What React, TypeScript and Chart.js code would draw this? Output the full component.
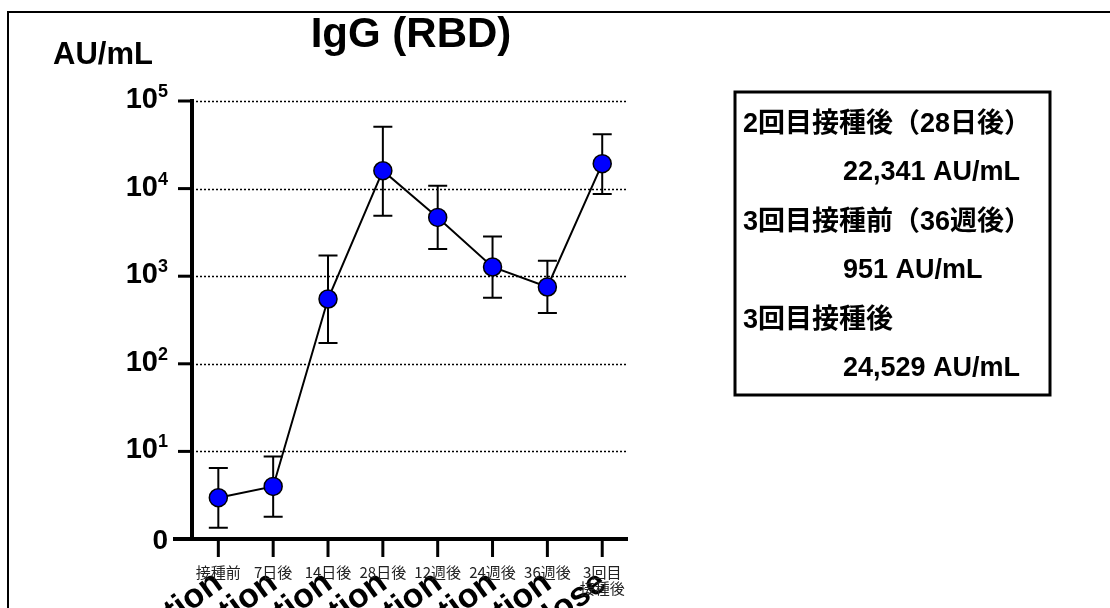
import { useEffect, useRef } from "react";
import { Chart, registerables } from "chart.js";

Chart.register(...registerables);

const categories: string[][] = [
  ["接種前"],
  ["7日後"],
  ["14日後"],
  ["28日後"],
  ["12週後"],
  ["24週後"],
  ["36週後"],
  ["3回目", "接種後"],
];

const rotatedLabels: string[] = [
  "Before vaccination",
  "7 days after vaccination",
  "14 days after vaccination",
  "28 days after vaccination",
  "12 weeks after vaccination",
  "24 weeks after vaccination",
  "36 weeks after vaccination",
  "After 3rd dose",
];

const values: number[] = [2.96, 3.98, 549, 16000, 4690, 1274, 753, 19240];
const upperValues: number[] = [6.46, 8.77, 1727, 50800, 10800, 2846, 1503, 41600];
const lowerValues: number[] = [1.34, 1.8, 173, 4900, 2044, 568, 380, 8670];

const yTickExponents: number[] = [1, 2, 3, 4, 5];
const yZeroLabel = "0";
const yUnit = "AU/mL";
const titleText = "IgG (RBD)";

const legendHeadings: string[] = ["2回目接種後（28日後）", "3回目接種前（36週後）", "3回目接種後"];
const legendValues: string[] = ["22,341 AU/mL", "951 AU/mL", "24,529 AU/mL"];

const SANS = '"Liberation Sans", Arial, "Noto Sans CJK JP", sans-serif';
const CJK = '"Noto Sans CJK JP", sans-serif';

const drawPlugin = {
  id: "customDraw",
  beforeDatasetsDraw(chart: any) {
    const { ctx, chartArea } = chart;
    const x = chart.scales.x;
    const y = chart.scales.y;
    ctx.save();
    ctx.strokeStyle = "#000";
    ctx.lineWidth = 1.5;
    ctx.setLineDash([2, 2]);
    for (const e of yTickExponents) {
      const py = Math.round(y.getPixelForValue(Math.pow(10, e))) + 0.5;
      ctx.beginPath();
      ctx.moveTo(chartArea.left, py);
      ctx.lineTo(chartArea.right - 2, py);
      ctx.stroke();
    }
    ctx.setLineDash([]);
    ctx.lineWidth = 2;
    for (let i = 0; i < values.length; i++) {
      const px = x.getPixelForValue(i);
      const pt = y.getPixelForValue(upperValues[i]);
      const pb = y.getPixelForValue(lowerValues[i]);
      ctx.beginPath();
      ctx.moveTo(px, pt);
      ctx.lineTo(px, pb);
      ctx.moveTo(px - 9.5, pt);
      ctx.lineTo(px + 9.5, pt);
      ctx.moveTo(px - 9.5, pb);
      ctx.lineTo(px + 9.5, pb);
      ctx.stroke();
    }
    ctx.restore();
  },
  afterDraw(chart: any) {
    const { ctx, chartArea } = chart;
    const x = chart.scales.x;
    const y = chart.scales.y;
    ctx.save();
    ctx.fillStyle = "#000";
    ctx.strokeStyle = "#000";

    // outer frame
    ctx.lineWidth = 2;
    ctx.strokeRect(8, 12, 1300, 800);

    // axes
    ctx.lineWidth = 4;
    ctx.beginPath();
    ctx.moveTo(chartArea.left, chartArea.top - 2);
    ctx.lineTo(chartArea.left, chartArea.bottom + 2);
    ctx.stroke();
    ctx.beginPath();
    ctx.moveTo(chartArea.left - 19, chartArea.bottom);
    ctx.lineTo(chartArea.right, chartArea.bottom);
    ctx.stroke();

    // y ticks + labels
    ctx.lineWidth = 3;
    for (const e of yTickExponents) {
      const py = y.getPixelForValue(Math.pow(10, e));
      ctx.beginPath();
      ctx.moveTo(chartArea.left - 14, py);
      ctx.lineTo(chartArea.left, py);
      ctx.stroke();
      ctx.font = "bold 18px " + SANS;
      const supW = ctx.measureText(String(e)).width;
      const right = chartArea.left - 24;
      ctx.textAlign = "right";
      ctx.textBaseline = "alphabetic";
      ctx.fillText(String(e), right, py - 4);
      ctx.font = "bold 29px " + SANS;
      ctx.fillText("10", right - supW, py + 7);
    }
    ctx.font = "bold 28px " + SANS;
    ctx.textAlign = "right";
    ctx.fillText(yZeroLabel, chartArea.left - 24, chartArea.bottom + 10);

    // x ticks
    ctx.lineWidth = 3;
    for (let i = 0; i < categories.length; i++) {
      const px = x.getPixelForValue(i);
      ctx.beginPath();
      ctx.moveTo(px, chartArea.bottom);
      ctx.lineTo(px, chartArea.bottom + 18);
      ctx.stroke();
    }

    // big rotated labels (clipped by the page bottom)
    ctx.fillStyle = "#000";
    ctx.font = "bold 34px " + SANS;
    for (let i = 0; i < rotatedLabels.length; i++) {
      const px = x.getPixelForValue(i);
      ctx.save();
      ctx.translate(px + 6, chartArea.bottom + 48);
      ctx.rotate((-36 * Math.PI) / 180);
      ctx.textAlign = "right";
      ctx.textBaseline = "alphabetic";
      ctx.fillText(rotatedLabels[i], 0, 0);
      ctx.restore();
    }

    // small japanese category labels
    ctx.font = "15px " + CJK;
    ctx.fillStyle = "#222";
    ctx.textAlign = "center";
    ctx.textBaseline = "middle";
    for (let i = 0; i < categories.length; i++) {
      const px = x.getPixelForValue(i);
      categories[i].forEach((line, j) => {
        ctx.fillText(line, px, chartArea.bottom + 33 + j * 16);
      });
    }

    // unit label
    ctx.fillStyle = "#000";
    ctx.font = "bold 31px " + SANS;
    ctx.textAlign = "left";
    ctx.textBaseline = "alphabetic";
    ctx.fillText(yUnit, 53, 64);

    // title
    ctx.font = "bold 42px " + SANS;
    ctx.textAlign = "center";
    ctx.fillText(titleText, 411, 47);

    // legend box
    ctx.lineWidth = 3;
    ctx.strokeRect(735, 92, 315, 303);
    ctx.font = "bold 27px " + SANS;
    ctx.textAlign = "left";
    ctx.textBaseline = "middle";
    for (let k = 0; k < legendHeadings.length; k++) {
      const baseY = 125 + k * 98;
      ctx.fillText(legendHeadings[k], 743, baseY);
      ctx.fillText(legendValues[k], 843, baseY + 48);
    }

    ctx.restore();
  },
};

export default function App() {
  const ref = useRef<HTMLCanvasElement | null>(null);
  useEffect(() => {
    if (!ref.current) return;
    const chart = new Chart(ref.current, {
      type: "line",
      data: {
        datasets: [
          {
            data: values.map((v, i) => ({ x: i, y: v })),
            borderColor: "#000",
            borderWidth: 2,
            pointRadius: 9,
            pointBackgroundColor: "#0000ff",
            pointBorderColor: "#000",
            pointBorderWidth: 1.5,
            tension: 0,
          },
        ],
      },
      plugins: [drawPlugin],
      options: {
        animation: false,
        responsive: false,
        devicePixelRatio: 1,
        layout: { padding: { top: 101, left: 0, right: 482, bottom: 0 } },
        plugins: { legend: { display: false }, tooltip: { enabled: false }, title: { display: false } },
        scales: {
          x: {
            type: "linear",
            min: -0.48,
            max: 7.47,
            grid: { display: false },
            border: { display: false },
            ticks: { display: false },
            afterFit: (s: any) => {
              s.height = 69;
            },
          },
          y: {
            type: "logarithmic",
            min: 1,
            max: 100000,
            grid: { display: false },
            border: { display: false },
            ticks: { display: false },
            afterFit: (s: any) => {
              s.width = 192;
            },
          },
        },
      } as any,
    });
    return () => chart.destroy();
  }, []);
  return (
    <canvas
      ref={ref}
      width={1110}
      height={608}
      style={{ position: "absolute", left: 0, top: 0, width: 1110, height: 608, background: "#fff" }}
    />
  );
}
